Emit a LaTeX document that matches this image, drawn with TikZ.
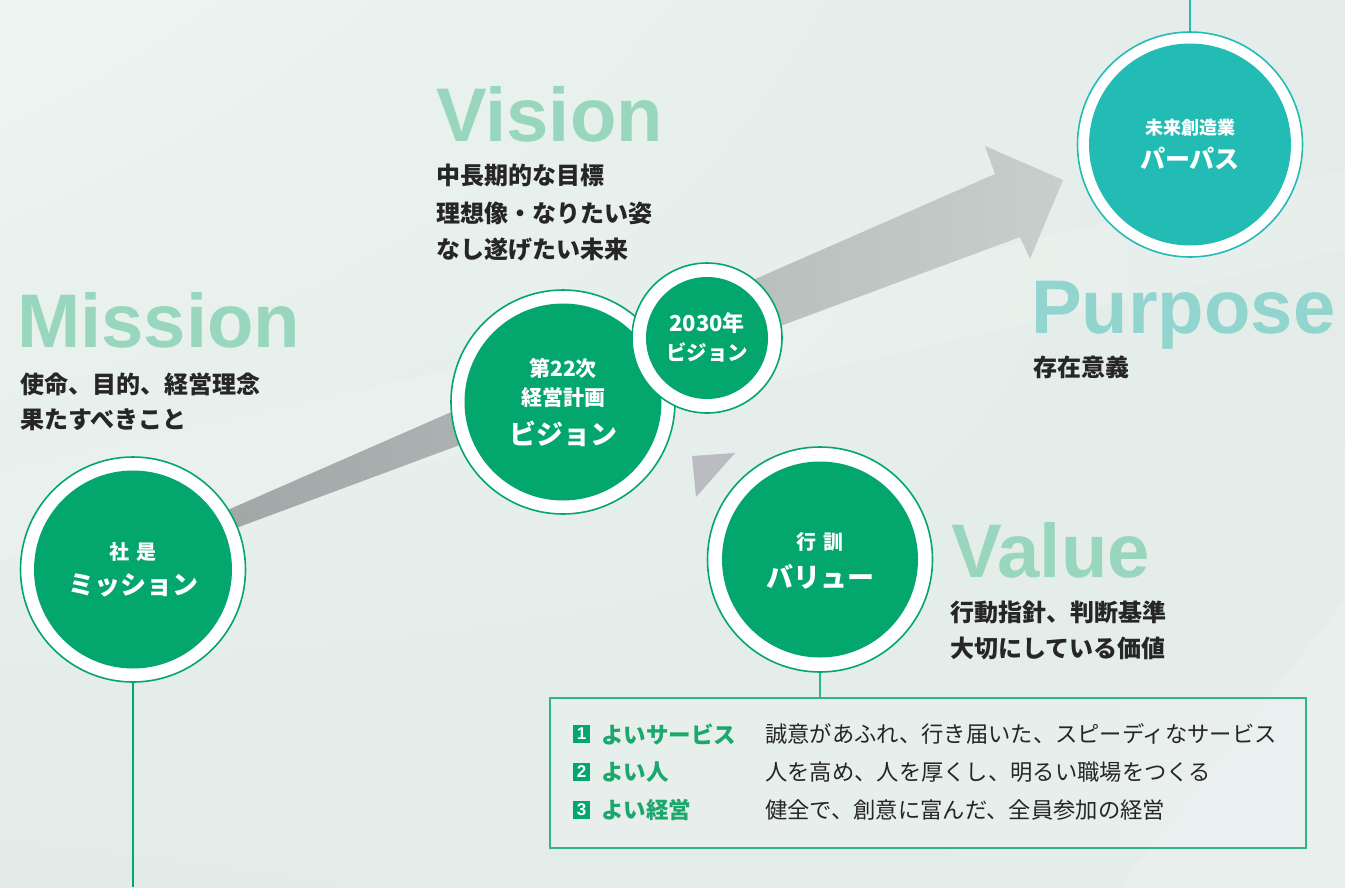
\documentclass[tikz,border=0pt]{standalone}
\usepackage{fontspec}
\setmainfont{Liberation Sans}
\newfontfamily\jp{Noto Sans CJK JP}
\usetikzlibrary{calc,shadings,fadings}
\definecolor{mgreen}{RGB}{3,166,108}
\definecolor{headgreen}{RGB}{152,214,190}
\definecolor{headteal}{RGB}{146,213,207}
\definecolor{teal}{RGB}{35,188,180}
\definecolor{txt}{RGB}{38,38,38}
\definecolor{boxgreen}{RGB}{48,182,128}
\definecolor{lblgreen}{RGB}{28,168,108}
\definecolor{bgA}{RGB}{236,245,241}
\definecolor{bgB}{RGB}{227,236,233}
\definecolor{bgC}{RGB}{226,235,232}
\definecolor{bgD}{RGB}{229,237,234}
\definecolor{arrowL}{RGB}{156,164,164}
\definecolor{arrowR}{RGB}{199,206,204}
\definecolor{triC}{RGB}{186,188,193}
\begin{document}
\begin{tikzpicture}[x=1pt,y=-1pt,
  ring/.style n args={4}{circle, inner sep=0pt, minimum size=#1, fill=white, draw=#4, line width=1.6pt,
     path picture={\fill[#3] (path picture bounding box.center) circle (#2);}},
  heading/.style={anchor=base west, inner sep=0pt, font=\fontsize{76}{76}\selectfont\bfseries},
  body/.style={anchor=west, inner sep=0pt, text=txt, font=\jp\bfseries\fontsize{24}{24}\selectfont},
  inlbl/.style={inner sep=0pt, text=white, font=\jp\bfseries\fontsize{#1}{#1}\selectfont},
  rowlbl/.style={anchor=west, inner sep=0pt, text=lblgreen, font=\jp\bfseries\fontsize{22.5}{22.5}\selectfont},
  rowtxt/.style={anchor=west, inner sep=0pt, text=txt, font=\jp\fontsize{22.3}{22.3}\selectfont},
  numbox/.style={fill=mgreen, text=white, minimum width=17pt, minimum height=18pt, inner sep=0pt, font=\bfseries\fontsize{17}{17}\selectfont},
  link/.style={line width=1.6pt}
]
\useasboundingbox (0,0) rectangle (1345,887);
% background
\shade[upper left=bgA, upper right=bgB, lower left=bgC, lower right=bgD] (0,0) rectangle (1345,887);
\fill[white, opacity=0.12] (0,470) -- (1345,170) -- (1345,250) -- (0,560) -- cycle;
\fill[white, opacity=0.15] (1120,887) -- (1345,600) -- (1345,887) -- cycle;
% big arrow
\shade[left color=arrowL, right color=arrowR]
  (150,544) -- (995,174) -- (985,146) -- (1063,180) -- (1030,259) -- (1020,237) -- (150,560) -- cycle;
% small triangle
\fill[triC] (692,456) -- (735,453) -- (696,497) -- cycle;
% end coordinates
\coordinate (mbottom) at (133,887);
\coordinate (ptop) at (1190,0);
% circles
\node[ring={225pt}{99pt}{mgreen}{mgreen}] (mission) at (133,569.5) {};
\node[ring={224pt}{98.5pt}{mgreen}{mgreen}] (vision) at (563,402) {};
\node[ring={150pt}{61pt}{mgreen}{mgreen}] (v2030) at (707,338) {};
\node[ring={225pt}{101pt}{teal}{teal}] (purpose) at (1190,144.5) {};
\node[ring={225pt}{98pt}{mgreen}{mgreen}] (value) at (820,559.5) {};
% box
\node[draw=boxgreen, line width=1.5pt, fill=white, fill opacity=0.12, minimum width=756pt, minimum height=150pt, anchor=north west, inner sep=0pt] (box) at (549,697) {};
% connector lines
\draw[link, mgreen] (mission.south) -- (mbottom);
\draw[link, teal] (purpose.north) -- (ptop);
\draw[link, boxgreen] (value.south) -- (value.south |- box.north);
% circle labels
\node[inlbl=20] (m1) at (133,552) {社\hspace{0.4em}是};
\node[inlbl=26] (m2) at (133,585) {ミッション};
\node[inlbl=21] (v1) at (563,368) {第22次};
\node[inlbl=21] (v2) at (563,397) {経営計画};
\node[inlbl=27] (v3) at (563,434) {ビジョン};
\node[inlbl=22] (t1) at (707,323) {2030年};
\node[inlbl=20.5] (t2) at (707,352) {ビジョン};
\node[inlbl=18] (p1) at (1190,128) {未来創造業};
\node[inlbl=25] (p2) at (1190,158) {パーパス};
\node[inlbl=20] (va1) at (820,542) {行\hspace{0.4em}訓};
\node[inlbl=27] (va2) at (820,577) {バリュー};
% headings
\node[heading, text=headgreen] (hmission) at (17,347) {Mission};
\node[heading, text=headgreen] (hvision) at (436,141) {Vision};
\node[heading, text=headteal] (hpurpose) at (1031,333) {Purpose};
\node[heading, text=headgreen] (hvalue) at (951,577) {Value};
% body texts
\node[body] (mt1) at (20,384) {使命、目的、経営理念};
\node[body] (mt2) at (20,420) {果たすべきこと};
\node[body] (vt1) at (436,175) {中長期的な目標};
\node[body] (vt2) at (436,213) {理想像・なりたい姿};
\node[body] (vt3) at (436,250) {なし遂げたい未来};
\node[body] (pt1) at (1033,367) {存在意義};
\node[body] (vat1) at (950,612) {行動指針、判断基準};
\node[body] (vat2) at (950,648) {大切にしている価値};
% box rows
\node[numbox] (n1) at (581.5,734) {1};
\node[numbox] (n2) at (581.5,772) {2};
\node[numbox] (n3) at (581.5,810) {3};
\node[rowlbl] (l1) at (601,734) {よいサービス};
\node[rowlbl] (l2) at (601,772) {よい人};
\node[rowlbl] (l3) at (601,810) {よい経営};
\node[rowtxt] (d1) at (765,734) {誠意があふれ、行き届いた、スピーディなサービス};
\node[rowtxt] (d2) at (765,772) {人を高め、人を厚くし、明るい職場をつくる};
\node[rowtxt] (d3) at (765,810) {健全で、創意に富んだ、全員参加の経営};
\end{tikzpicture}
\end{document}
